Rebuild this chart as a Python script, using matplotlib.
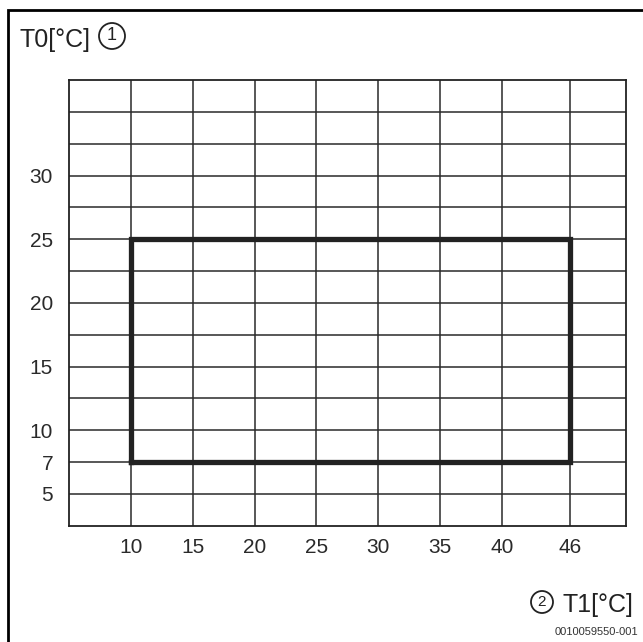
import numpy as np
import matplotlib
matplotlib.use("Agg")
import matplotlib.pyplot as plt
from matplotlib.patches import Ellipse
from matplotlib.lines import Line2D

# ---- data ----
x_ticks = [10, 15, 20, 25, 30, 35, 40, 46]
y_ticks = [5, 7, 10, 15, 20, 25, 30]
y_minor = [12.5, 17.5, 22.5, 27.5, 32.5, 35]
t1_range = [10, 46]   # T1 limits of operating window
t0_range = [7, 25]    # T0 limits of operating window
y_label = "T0[°C]"
x_label = "T1[°C]"
doc_id = "0010059550-001"

font = "Liberation Sans"

W, H = 643, 642
fig = plt.figure(figsize=(W / 100, H / 100), dpi=100)

ax = fig.add_axes([69 / W, 1 - 525.7 / H, (625.7 - 69) / W, (525.7 - 80) / H])

# schematic (non-uniform) scales of the diagram
xv, xp = [5, 10, 40, 46, 50], [0, 1, 7, 8.1, 9]
yv, yp = [3, 5, 7, 10, 37.5], [0, 1, 2, 3, 14]
ax.set_xscale("function", functions=(lambda v: np.interp(v, xv, xp),
                                      lambda p: np.interp(p, xp, xv)))
ax.set_yscale("function", functions=(lambda v: np.interp(v, yv, yp),
                                      lambda p: np.interp(p, yp, yv)))
ax.set_xlim(xv[0], xv[-1])
ax.set_ylim(yv[0], yv[-1])

ax.set_xticks(x_ticks)
ax.set_xticklabels([str(v) for v in x_ticks])
ax.set_yticks(y_ticks)
ax.set_yticklabels([str(v) for v in y_ticks])
ax.set_yticks(y_minor, minor=True)
ax.set_xticks([], minor=True)
ax.tick_params(which="both", length=0)
ax.tick_params(axis="x", pad=9)
ax.tick_params(axis="y", pad=11.5)
for lab in ax.get_xticklabels() + ax.get_yticklabels():
    lab.set_fontfamily(font)
    lab.set_fontsize(15)
    lab.set_color("#2a2a2a")

ax.grid(True, which="both", color="#2a2a2a", linewidth=1.1)
ax.set_axisbelow(True)
for s in ax.spines.values():
    s.set_color("#222222")
    s.set_linewidth(1.3)

# operating window
rx = [t1_range[0], t1_range[1], t1_range[1], t1_range[0], t1_range[0]]
ry = [t0_range[0], t0_range[0], t0_range[1], t0_range[1], t0_range[0]]
ax.plot(rx, ry, color="#222222", linewidth=3.8, solid_joinstyle="miter", zorder=5)

# outer frame (left and top edges)
fig.add_artist(Line2D([7.5 / W, 7.5 / W, 1.0], [0.0, 1 - 10 / H, 1 - 10 / H],
                      color="black", linewidth=2.0, solid_joinstyle="miter"))

# labels
fig.text(19 / W, 1 - 47 / H, y_label, fontfamily=font, fontsize=18,
         color="#222222", ha="left", va="baseline")
fig.add_artist(Ellipse((112 / W, 1 - 36 / H), 26 / W, 26 / H, fill=False,
                       edgecolor="#222222", linewidth=1.3))
fig.text(112 / W, 1 - 36 / H, "1", fontfamily=font, fontsize=13,
         color="#222222", ha="center", va="center")

fig.text(633 / W, 1 - 612 / H, x_label, fontfamily=font, fontsize=18,
         color="#222222", ha="right", va="baseline")
fig.add_artist(Ellipse((542 / W, 1 - 602 / H), 22 / W, 22 / H, fill=False,
                       edgecolor="#222222", linewidth=1.3))
fig.text(542 / W, 1 - 602 / H, "2", fontfamily=font, fontsize=11,
         color="#222222", ha="center", va="center")

fig.text(638 / W, 1 - 635 / H, doc_id, fontfamily=font, fontsize=8,
         color="#333333", ha="right", va="baseline")

fig.savefig("out.png", dpi=100)
